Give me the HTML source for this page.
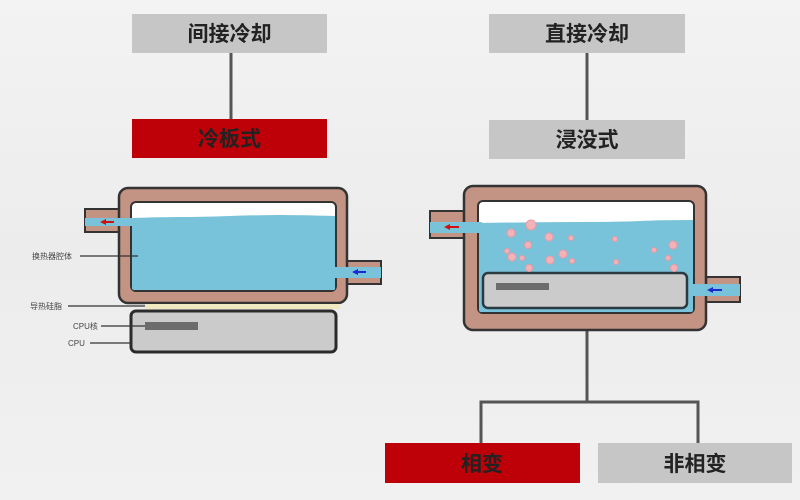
<!DOCTYPE html>
<html><head><meta charset="utf-8"><style>
html,body{margin:0;padding:0;}
body{width:800px;height:500px;overflow:hidden;background:linear-gradient(180deg,#f3f3f3,#ececec 50%,#f1f1f1);font-family:"Liberation Sans","Noto Sans CJK SC",sans-serif;}
</style></head><body>
<svg width="800" height="500" xmlns="http://www.w3.org/2000/svg" style="position:absolute;left:0;top:0">
<g font-family="Liberation Sans, Noto Sans CJK SC, sans-serif">
<rect x="132" y="14" width="195" height="39" fill="#c6c6c6"/>
<text x="229.5" y="41" font-size="21" font-weight="bold" fill="#222" text-anchor="middle">间接冷却</text>
<line x1="231" y1="53" x2="231" y2="119" stroke="#555" stroke-width="3"/>
<rect x="132" y="119" width="195" height="39" fill="#be0008"/>
<text x="229.5" y="146" font-size="21" font-weight="bold" fill="#222" text-anchor="middle">冷板式</text>

<rect x="489" y="14" width="196" height="39" fill="#c6c6c6"/>
<text x="587" y="41" font-size="21" font-weight="bold" fill="#222" text-anchor="middle">直接冷却</text>
<line x1="587" y1="53" x2="587" y2="120" stroke="#555" stroke-width="3"/>
<rect x="489" y="120" width="196" height="39" fill="#c6c6c6"/>
<text x="587" y="147" font-size="21" font-weight="bold" fill="#222" text-anchor="middle">浸没式</text>

<path d="M587 330 V402 M481 443 V402 H698 V443" fill="none" stroke="#555" stroke-width="3"/>
<rect x="385" y="443" width="195" height="40" fill="#be0008"/>
<text x="482" y="471" font-size="21" font-weight="bold" fill="#222" text-anchor="middle">相变</text>
<rect x="598" y="443" width="194" height="40" fill="#c6c6c6"/>
<text x="695" y="471" font-size="21" font-weight="bold" fill="#222" text-anchor="middle">非相变</text>

<!-- LEFT diagram -->
<rect x="85" y="209" width="45" height="23" fill="#c39383" stroke="#333" stroke-width="2"/>
<rect x="325" y="261" width="56" height="23" fill="#c39383" stroke="#333" stroke-width="2"/>
<rect x="119" y="188" width="228" height="115" rx="9" fill="#c39383" stroke="#333" stroke-width="2.5"/>
<rect x="131" y="202" width="205" height="89" rx="5" fill="#fff" stroke="#333" stroke-width="2"/>
<path d="M132 218 Q160 217 180 217 T230 216 T280 215 T335 216 V289 Q335 290 333 290 H134 Q132 290 132 288 Z" fill="#79c3da"/>
<rect x="85" y="218" width="50" height="8" fill="#79c3da"/>
<rect x="332" y="267" width="49" height="11" fill="#79c3da"/>
<path d="M100 222 l6 -3 v2 h8 v2 h-8 v2 z" fill="#d01010"/>
<path d="M352 272 l6 -3 v2 h8 v2 h-8 v2 z" fill="#1a2ad0"/>
<rect x="145" y="304" width="195" height="5" fill="#f0e8c0"/>
<rect x="131" y="311" width="205" height="41" rx="5" fill="#cbcbcb" stroke="#2b2b2b" stroke-width="3"/>
<rect x="145" y="322" width="53" height="8" fill="#6c6c6c"/>
<g font-size="8" fill="#444">
<text x="32" y="259">换热器腔体</text>
<text x="30" y="309">导热硅脂</text>
<text x="73" y="329">CPU核</text>
<text x="68" y="346">CPU</text>
</g>
<g stroke="#333" stroke-width="1.2">
<line x1="80" y1="256" x2="138" y2="256"/>
<line x1="68" y1="306" x2="145" y2="306"/>
<line x1="101" y1="326" x2="145" y2="326"/>
<line x1="90" y1="343" x2="131" y2="343"/>
</g>

<!-- RIGHT diagram -->
<rect x="430" y="211" width="45" height="27" fill="#c39383" stroke="#333" stroke-width="2"/>
<rect x="685" y="277" width="55" height="25" fill="#c39383" stroke="#333" stroke-width="2"/>
<rect x="464" y="186" width="242" height="144" rx="9" fill="#c39383" stroke="#333" stroke-width="2.5"/>
<rect x="478" y="201" width="216" height="112" rx="5" fill="#fff" stroke="#333" stroke-width="2"/>
<path d="M479 223 Q540 222 580 222 T640 221 T693 220 V310 Q693 312 691 312 H481 Q479 312 479 310 Z" fill="#79c3da"/>
<rect x="430" y="222" width="52" height="11" fill="#79c3da"/>
<rect x="690" y="284" width="50" height="12" fill="#79c3da"/>
<path d="M444 227 l6 -3 v2 h9 v2 h-9 v2 z" fill="#d01010"/>
<path d="M707 290 l6 -3 v2 h9 v2 h-9 v2 z" fill="#1a2ad0"/>
<rect x="483" y="273" width="204" height="35" rx="5" fill="#cbcbcb" stroke="#2b3a40" stroke-width="2.5"/>
<rect x="496" y="283" width="53" height="7" fill="#6c6c6c"/>
<g fill="#f3b2b8" stroke="#e99aa3" stroke-width="1">
<circle cx="531" cy="225" r="5"/><circle cx="511" cy="233" r="4"/><circle cx="549" cy="237" r="4"/>
<circle cx="528" cy="245" r="3.5"/><circle cx="571" cy="238" r="2.5"/><circle cx="615" cy="239" r="2.5"/>
<circle cx="507" cy="251" r="2.5"/><circle cx="512" cy="257" r="4"/><circle cx="522" cy="258" r="2.5"/>
<circle cx="550" cy="260" r="4"/><circle cx="563" cy="254" r="4"/><circle cx="572" cy="261" r="2.5"/>
<circle cx="616" cy="262" r="2.5"/><circle cx="654" cy="250" r="2.5"/><circle cx="673" cy="245" r="4"/>
<circle cx="668" cy="258" r="2.5"/><circle cx="529" cy="268" r="3.5"/><circle cx="674" cy="268" r="3.5"/>
</g>
</g>
</svg>
</body></html>
